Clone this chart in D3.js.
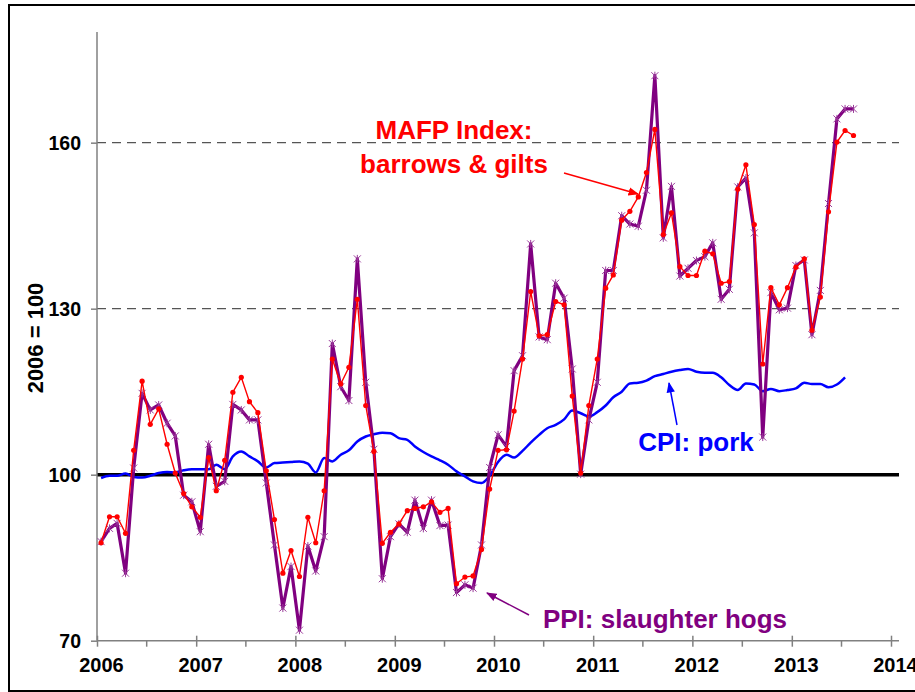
<!DOCTYPE html>
<html>
<head>
<meta charset="utf-8">
<script src="https://cdn.jsdelivr.net/npm/d3@7"></script>
<style>
  body { margin: 0; background: #fff; }
  svg { display: block; font-family: "Liberation Sans", Arial, sans-serif; font-weight: bold; }
</style>
</head>
<body>
<svg id="chart" width="915" height="692"></svg>
<script>
// monthly index values, 2006 = 100, starting Jan 2006
var mafp = [87.7, 92.4, 92.4, 89.4, 104.4, 116.9, 109.1, 111.9, 105.5, 100.3, 96.6, 94.2,
  92.3, 103.1, 97.1, 102.6, 114.9, 117.6, 113.2, 111.2, 100.7, 91.9, 82.2, 86.3,
  81.6, 92.3, 87.7, 97.1, 120.9, 116.4, 119.4, 131.7, 112.5, 104.2, 87.6, 89.6,
  91.1, 93.5, 93.9, 94.2, 95.1, 93.2, 93.9, 80.3, 81.5, 81.7, 86.5, 97.4,
  104.4, 104.5, 111.5, 120.9, 133.1, 125.1, 125.3, 131.3, 130.7, 114.2, 100.3, 112.5,
  120.9, 133.7, 136.1, 146.0, 147.6, 150.2, 154.6, 162.4, 143.4, 147.3, 137.6, 136.0,
  136.0, 140.4, 139.9, 134.6, 134.9, 151.6, 156.0, 145.2, 120.0, 133.8, 130.7, 133.8,
  137.5, 139.0, 126.1, 132.1, 147.5, 160.1, 162.2, 161.3];

var ppi = [87.9, 90.3, 91.2, 82.2, 101.2, 114.7, 111.7, 112.6, 109.3, 107.0, 96.3, 95.1,
  89.7, 105.5, 97.9, 98.8, 112.7, 111.7, 109.9, 109.9, 98.5, 87.3, 75.9, 83.4,
  71.9, 87.1, 82.6, 88.8, 123.7, 115.9, 113.4, 139.0, 116.7, 104.6, 81.2, 88.8,
  91.1, 89.6, 95.4, 90.3, 95.4, 90.8, 90.9, 78.7, 80.1, 79.5, 87.3, 101.3,
  107.2, 105.1, 118.8, 121.5, 141.7, 124.9, 124.4, 134.6, 131.9, 119.1, 100.1, 109.9,
  116.7, 136.9, 136.9, 146.8, 145.3, 144.9, 151.4, 172.1, 142.8, 152.1, 135.9, 137.3,
  138.7, 139.4, 141.9, 131.7, 133.5, 152.0, 153.6, 143.7, 106.8, 132.9, 129.8, 130.1,
  137.8, 138.8, 125.3, 133.3, 149.0, 164.3, 166.1, 166.1];

var cpi = [99.4, 99.8, 99.8, 100.2, 99.6, 99.5, 99.8, 100.3, 100.5, 100.4, 100.8, 101.0,
  101.0, 101.0, 101.8, 101.0, 103.3, 104.2, 103.3, 102.4, 101.3, 102.1, 102.2, 102.3,
  102.4, 102.0, 100.4, 103.0, 102.4, 103.6, 104.4, 106.0, 106.9, 107.3, 107.6, 107.5,
  106.6, 106.3, 105.1, 104.1, 103.3, 102.6, 101.8, 100.6, 99.7, 98.8, 98.5, 99.8,
  102.3, 103.6, 103.1, 104.3, 105.8, 107.2, 108.4, 109.0, 110.0, 111.6, 111.1, 110.5,
  111.3, 112.5, 114.0, 115.0, 116.5, 116.6, 117.0, 117.8, 118.2, 118.6, 118.9, 119.1,
  118.6, 118.4, 118.4, 117.6, 116.2, 115.3, 116.5, 116.3, 115.1, 115.5, 115.1, 115.3,
  115.6, 116.6, 116.4, 116.4, 115.8, 116.3, 117.6];

var yTicks = [70, 100, 130, 160];
var gridLevels = [130, 160];
var years = d3.range(2006, 2015);

// month index -> mid-month date
function monthDate(i) { return new Date(2006, i, 16); }

var svg = d3.select("#chart");

var x = d3.scaleTime()
  .domain([new Date(2006, 0, 1), new Date(2014, 0, 1)])
  .range([97, 891]);

var y = d3.scaleLinear()
  .domain([70, 180])
  .range([640.7, 32]);

// outer frame
svg.append("rect")
  .attr("x", 9).attr("y", 5)
  .attr("width", 930).attr("height", 686)
  .attr("fill", "none")
  .attr("stroke", "#000")
  .attr("stroke-width", 2);

// dashed gridlines
svg.append("g")
  .selectAll("line")
  .data(gridLevels)
  .enter()
  .append("line")
  .attr("x1", x.range()[0]).attr("x2", x.range()[1] + 8)
  .attr("y1", function(d) { return y(d); })
  .attr("y2", function(d) { return y(d); })
  .attr("stroke", "#555")
  .attr("stroke-width", 1.3)
  .attr("stroke-dasharray", "9,6");

// base line at 100
svg.append("line")
  .attr("x1", x.range()[0]).attr("x2", x.range()[1] + 8)
  .attr("y1", y(100)).attr("y2", y(100))
  .attr("stroke", "#000")
  .attr("stroke-width", 3.5);

// y axis
var yAxis = d3.axisLeft(y).tickValues(yTicks).tickSize(6).tickPadding(10);
var gy = svg.append("g")
  .attr("transform", "translate(" + x.range()[0] + ",0)")
  .call(yAxis);
gy.select(".domain").remove();
gy.append("line")
  .attr("x1", 0).attr("x2", 0)
  .attr("y1", y.range()[1]).attr("y2", y.range()[0])
  .attr("stroke", "#808080").attr("stroke-width", 1.5);
gy.selectAll(".tick line").attr("stroke", "#808080").attr("stroke-width", 1.5);
gy.selectAll(".tick text")
  .attr("fill", "#000")
  .attr("font-size", 19.5)
  .attr("font-family", "'Liberation Sans', Arial, sans-serif")
  .attr("font-weight", "bold")
  .attr("dy", "0.36em");

// x axis, major ticks cross the line, minor ticks at mid year
var xAxis = d3.axisBottom(x)
  .tickValues(years.map(function(d) { return new Date(d, 0, 1); }))
  .tickFormat(d3.timeFormat("%Y"))
  .tickSize(6);
var gx = svg.append("g")
  .attr("transform", "translate(0," + y(70) + ")")
  .call(xAxis);
gx.select(".domain").remove();
gx.selectAll(".tick line")
  .attr("y1", -5)
  .attr("stroke", "#808080").attr("stroke-width", 1.5);
gx.selectAll(".tick text")
  .attr("fill", "#000")
  .attr("font-size", 20)
  .attr("font-family", "'Liberation Sans', Arial, sans-serif")
  .attr("font-weight", "bold")
  .attr("x", 4)
  .attr("y", 31)
  .attr("dy", null);

var gxm = svg.append("g")
  .attr("transform", "translate(0," + y(70) + ")")
  .call(d3.axisBottom(x)
    .tickValues(years.slice(0, -1).map(function(d) { return new Date(d, 6, 1); }))
    .tickFormat("")
    .tickSize(6));
gxm.select(".domain").remove();
gxm.selectAll(".tick line").attr("stroke", "#808080").attr("stroke-width", 1.5);

svg.append("line")
  .attr("x1", x.range()[0]).attr("x2", x.range()[1] + 8)
  .attr("y1", y(70)).attr("y2", y(70))
  .attr("stroke", "#808080").attr("stroke-width", 1.5);

// lines
var line = d3.line()
  .x(function(d, i) { return x(monthDate(i)); })
  .y(function(d) { return y(d); });

svg.append("path")
  .datum(cpi)
  .attr("fill", "none")
  .attr("stroke", "#0000ff")
  .attr("stroke-width", 2.5)
  .attr("stroke-linejoin", "round")
  .attr("d", line.curve(d3.curveMonotoneX));

line.curve(d3.curveLinear);

svg.append("path")
  .datum(ppi)
  .attr("fill", "none")
  .attr("stroke", "#800080")
  .attr("stroke-width", 3.2)
  .attr("stroke-linejoin", "round")
  .attr("d", line);

// star markers for PPI
var stars = svg.append("g")
  .attr("stroke", "#9a3a9a")
  .attr("stroke-width", 1)
  .selectAll("g")
  .data(ppi)
  .enter()
  .append("g")
  .attr("transform", function(d, i) { return "translate(" + x(monthDate(i)) + "," + y(d) + ")"; });
stars.append("path").attr("d", "M-3.5,-3.5L3.5,3.5M-3.5,3.5L3.5,-3.5M0,-4L0,4");

svg.append("path")
  .datum(mafp)
  .attr("fill", "none")
  .attr("stroke", "#ff0000")
  .attr("stroke-width", 1.4)
  .attr("d", line);

svg.append("g")
  .attr("fill", "#ff0000")
  .selectAll("circle")
  .data(mafp)
  .enter()
  .append("circle")
  .attr("cx", function(d, i) { return x(monthDate(i)); })
  .attr("cy", function(d) { return y(d); })
  .attr("r", 2.6);

// arrowheads
var defs = svg.append("defs");
[["red", "#ff0000"], ["blue", "#0000ff"], ["purple", "#800080"]].forEach(function(c) {
  defs.append("marker")
    .attr("id", "arrow-" + c[0])
    .attr("viewBox", "0 0 10 10")
    .attr("refX", 9).attr("refY", 5)
    .attr("markerWidth", 7).attr("markerHeight", 7)
    .attr("orient", "auto")
    .append("path")
    .attr("d", "M0,1L10,5L0,9z")
    .attr("fill", c[1]);
});

// annotations
var notes = [
  {lines: ["MAFP Index:", "barrows & gilts"], x: 454, y: 139, color: "#ff0000",
    arrow: [564, 173, 638, 194], id: "red"},
  {lines: ["CPI: pork"], x: 696, y: 451, color: "#0000ff",
    arrow: [677, 425, 669, 383], id: "blue"},
  {lines: ["PPI: slaughter hogs"], x: 665, y: 628, color: "#800080",
    arrow: [529, 615, 487, 593], id: "purple"}
];

notes.forEach(function(n) {
  var t = svg.append("text")
    .attr("text-anchor", "middle")
    .attr("fill", n.color)
    .attr("font-size", 26);
  n.lines.forEach(function(s, k) {
    t.append("tspan").attr("x", n.x).attr("y", n.y + k * 33.5).text(s);
  });
  svg.append("line")
    .attr("x1", n.arrow[0]).attr("y1", n.arrow[1])
    .attr("x2", n.arrow[2]).attr("y2", n.arrow[3])
    .attr("stroke", n.color)
    .attr("stroke-width", 1.5)
    .attr("marker-end", "url(#arrow-" + n.id + ")");
});

// y axis title
svg.append("text")
  .attr("transform", "translate(43,338) rotate(-90)")
  .attr("text-anchor", "middle")
  .attr("font-size", 22)
  .attr("fill", "#000")
  .text("2006 = 100");
</script>
</body>
</html>
